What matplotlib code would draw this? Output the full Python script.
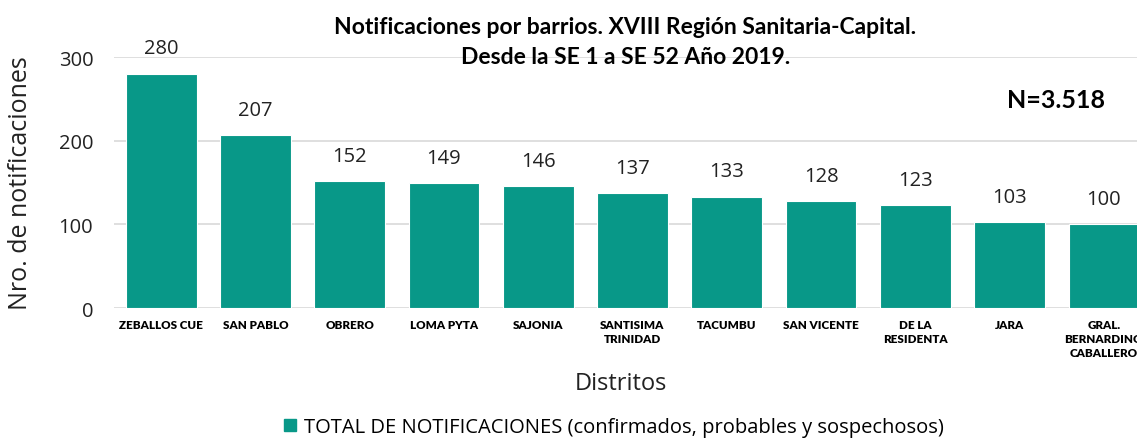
import matplotlib
matplotlib.use("Agg")
import matplotlib.pyplot as plt
from matplotlib.patches import Patch

# data
barrios = ["ZEBALLOS CUE", "SAN PABLO", "OBRERO", "LOMA PYTA", "SAJONIA",
           "SANTISIMA\nTRINIDAD", "TACUMBU", "SAN VICENTE", "DE LA\nRESIDENTA",
           "JARA", "GRAL.\nBERNARDINO\nCABALLERO"]
notificaciones = [280, 207, 152, 149, 146, 137, 133, 128, 123, 103, 100]
yticks = [0, 100, 200, 300]

COLOR = "#089888"
NARROW = ["Lato", "DejaVu Sans"]
plt.rcParams["font.family"] = ["Open Sans", "DejaVu Sans"]

fig = plt.figure(figsize=(11.37, 4.39), dpi=100)
ax = fig.add_axes([0.1003, 0.296, 0.912, 0.5718])

x = range(len(barrios))
ax.bar(x, notificaciones, width=0.75, color=COLOR,
       edgecolor="white", linewidth=0.8, zorder=3)
for xi, v in zip(x, notificaciones):
    ax.annotate(str(v), (xi, v), xytext=(0, 11), textcoords="offset points",
                ha="center", va="bottom", fontsize=14.5, color="#222222")

ax.set_xlim(-0.5, len(barrios) - 0.5)
ax.set_ylim(0, 300)
ax.set_yticks(yticks)
ax.tick_params(axis="y", labelsize=14.5, length=0, pad=15, colors="#222222")
ax.set_xticks(list(x))
ax.set_xticklabels(barrios, fontsize=8.4, fontweight="heavy", family=NARROW,
                   linespacing=1.3, va="top")
ax.tick_params(axis="x", length=0, pad=8)
ax.grid(axis="y", color="#d9d9d9", linewidth=1.2, zorder=0)
for s in ax.spines.values():
    s.set_visible(False)

ax.set_ylabel("Nro. de notificaciones", fontsize=18, color="#222222")
ax.yaxis.set_label_coords(-0.078, 0.5)

fig.text(0.55, 0.903, "Notificaciones por barrios. XVIII Región Sanitaria-Capital.\n"
         "Desde la SE 1 a SE 52 Año 2019.", ha="center", va="center",
         fontsize=16.5, fontweight="bold", family=NARROW, linespacing=1.55)
fig.text(0.929, 0.772, "N=3.518", ha="center", va="center", fontsize=18,
         family=NARROW, fontweight="bold")
fig.text(0.546, 0.125, "Distritos", ha="center", va="center", fontsize=17,
         color="#222222")

fig.legend(handles=[Patch(color=COLOR)],
           labels=["TOTAL DE NOTIFICACIONES (confirmados, probables y sospechosos)"],
           loc="center", bbox_to_anchor=(0.54, 0.025), frameon=False,
           fontsize=14.5, handlelength=0.6, handleheight=0.6, handletextpad=0.4)

fig.savefig("out.png", dpi=100)
